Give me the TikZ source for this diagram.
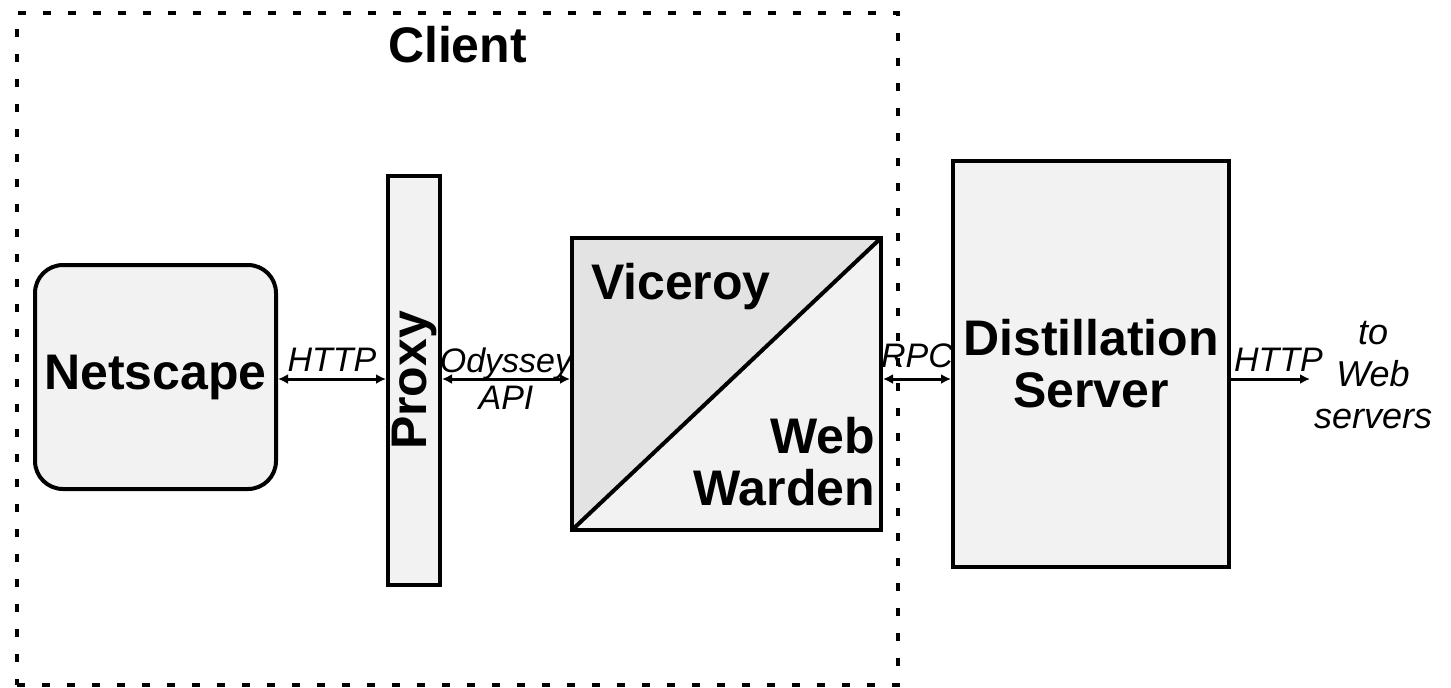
\documentclass[tikz,border=0pt]{standalone}
\usepackage{fontspec}
\setmainfont{Liberation Sans}
\usetikzlibrary{positioning, arrows.meta, calc}

\colorlet{boxfill}{black!5}
\colorlet{vicfill}{black!11}

\begin{document}
\begin{tikzpicture}[x=0.5pt, y=-0.5pt, line width=2pt,
    box/.style={draw, rectangle, fill=boxfill, inner sep=0pt, align=center, font=\fontsize{25}{26}\selectfont\bfseries},
    flow/.style={line width=1.5pt, {Latex[length=5pt,width=5pt]}-{Latex[length=5pt,width=5pt]}},
    flowone/.style={line width=1.5pt, -{Latex[length=5pt,width=5pt]}},
    lbl/.style={font=\fontsize{17}{20}\selectfont\itshape, inner sep=3pt}]
    \useasboundingbox (0,0) rectangle (1451,687);

    % Client side
    \node[draw, dashed, dash pattern={on 4pt off 8.5pt}, minimum width=440.5pt, minimum height=336pt, inner sep=0pt] (client) at (457.5,349) {};
    \node[below=6.5pt of client.north, inner sep=0pt, font=\fontsize{25}{26}\selectfont\bfseries] (clientlbl) {Client};

    % Boxes
    \node[box, rounded corners=14pt, minimum width=120.5pt, minimum height=112pt] (netscape) at (155.5,377) {Netscape};
    \node[box, minimum width=26pt, minimum height=204.5pt, right=54pt of netscape, yshift=-1.75pt] (proxy) {\rotatebox{90}{Proxy}};
    \node[box, minimum width=154.5pt, minimum height=146pt, right=64pt of proxy, yshift=-1.75pt,
        path picture={
            \fill[vicfill] (path picture bounding box.south west) -- (path picture bounding box.north west) -- (path picture bounding box.north east) -- cycle;
            \draw[line width=2pt] (path picture bounding box.south west) -- (path picture bounding box.north east);
        }] (warden) {};
    \node[box, minimum width=138pt, minimum height=203pt, right=34pt of warden, yshift=10pt] (distill) {Distillation\\Server};

    % Texts in the split box
    \node[below right=12.5pt and 9.5pt of warden.north west, inner sep=0pt, font=\fontsize{25}{26}\selectfont\bfseries] (viceroy) {Viceroy};
    \node[above left=12pt and 3pt of warden.south east, inner sep=0pt, align=right, font=\fontsize{25}{26}\selectfont\bfseries] (webwarden) {Web\\Warden};

    \node[align=center, inner sep=1pt, font=\fontsize{18}{21}\selectfont\itshape] (websrv) at (1373,375) {to\\Web\\servers};

    % Data flow arrows
    \coordinate (flow) at (0,379);
    \draw[flow] (netscape.east |- flow) -- node[lbl, above] (http1) {HTTP} (proxy.west |- flow);
    \draw[flow] (proxy.east |- flow) -- node[lbl, above, inner sep=0pt, yshift=-1pt] (odyssey) {Odyssey} node[lbl, below] (api) {API} (warden.west |- flow);
    \draw[flow] (warden.east |- flow) -- node[lbl, above, inner sep=5pt] (rpc) {RPC} (distill.west |- flow);
    \draw[flowone] (distill.east |- flow) -- node[lbl, above, pos=0.6] (http2) {HTTP} (websrv.west |- flow);
\end{tikzpicture}
\end{document}
